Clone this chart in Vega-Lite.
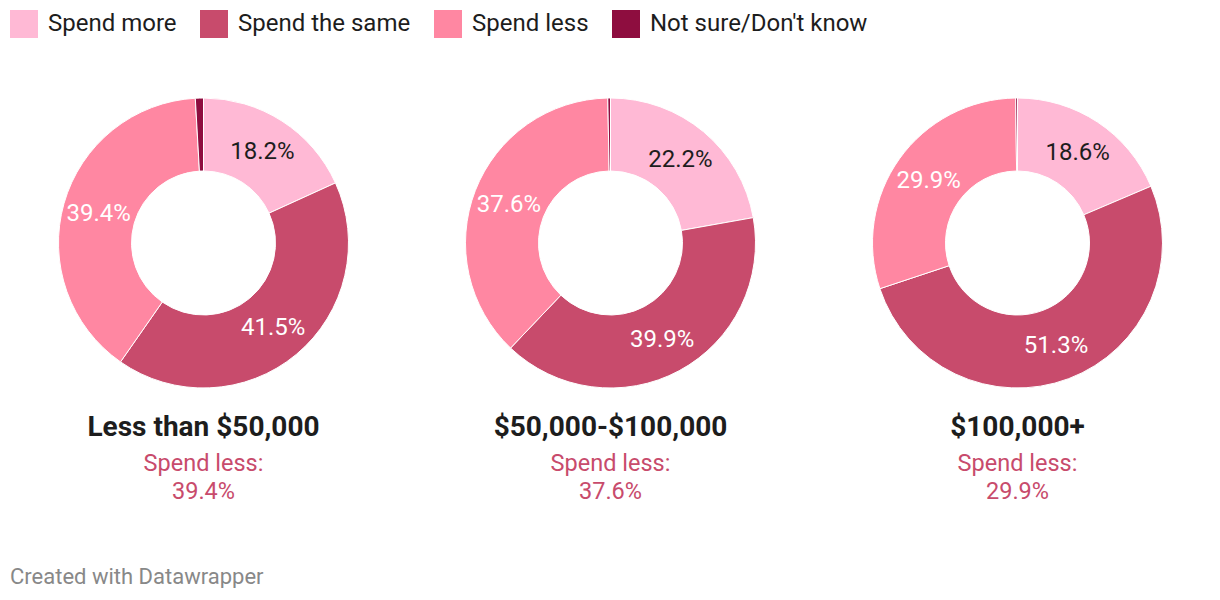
{
  "$schema": "https://vega.github.io/schema/vega-lite/v6.json",
  "padding": {"left": 10, "top": 10, "right": 0, "bottom": 0},
  "background": "#ffffff",
  "datasets": {
    "d": [
      {"g": "A", "cat": "Spend more", "k": 1, "value": 18.2, "label": "18.2%"},
      {"g": "A", "cat": "Spend the same", "k": 2, "value": 41.5, "label": "41.5%"},
      {"g": "A", "cat": "Spend less", "k": 3, "value": 39.4, "label": "39.4%"},
      {"g": "A", "cat": "Not sure/Don't know", "k": 4, "value": 0.9, "label": ""},
      {"g": "B", "cat": "Spend more", "k": 1, "value": 22.2, "label": "22.2%"},
      {"g": "B", "cat": "Spend the same", "k": 2, "value": 39.9, "label": "39.9%"},
      {"g": "B", "cat": "Spend less", "k": 3, "value": 37.6, "label": "37.6%"},
      {"g": "B", "cat": "Not sure/Don't know", "k": 4, "value": 0.3, "label": ""},
      {"g": "C", "cat": "Spend more", "k": 1, "value": 18.6, "label": "18.6%"},
      {"g": "C", "cat": "Spend the same", "k": 2, "value": 51.3, "label": "51.3%"},
      {"g": "C", "cat": "Spend less", "k": 3, "value": 29.9, "label": "29.9%"},
      {"g": "C", "cat": "Not sure/Don't know", "k": 4, "value": 0.2, "label": ""}
    ]
  },
  "title": {
    "text": "Created with Datawrapper",
    "orient": "bottom",
    "anchor": "start",
    "font": "Roboto",
    "fontSize": 22,
    "fontWeight": "normal",
    "color": "#888888",
    "offset": 63
  },
  "spacing": 20,
  "hconcat": [
    {
      "width": 387, "height": 290,
      "data": {"name": "d"},
      "transform": [{"filter": "datum.g === 'A'"}],
      "title": {"text": "Less than $50,000", "subtitle": ["Spend less:", "39.4%"]},
      "layer": [
        {"mark": {"type": "arc", "outerRadius": 145, "innerRadius": 72, "stroke": "#ffffff", "strokeWidth": 1},
         "encoding": {
           "theta": {"field": "value", "type": "quantitative", "stack": true},
           "order": {"field": "k", "type": "quantitative"},
           "color": {"field": "cat", "type": "nominal", "title": null,
             "scale": {"domain": ["Spend more", "Spend the same", "Spend less", "Not sure/Don't know"],
                       "range": ["#ffb9d5", "#c84b6c", "#ff87a2", "#8e0d3f"]}}
         }},
        {"mark": {"type": "text", "radius": 109, "font": "Roboto", "fontSize": 24, "dy": 1},
         "encoding": {
           "theta": {"field": "value", "type": "quantitative", "stack": true},
           "order": {"field": "k", "type": "quantitative"},
           "detail": {"field": "cat", "type": "nominal"},
           "text": {"field": "label", "type": "nominal"},
           "fill": {"condition": {"test": "datum.cat === 'Spend more'", "value": "#1d1d1d"}, "value": "#ffffff"}
         }}
      ]
    },
    {
      "width": 387, "height": 290,
      "data": {"name": "d"},
      "transform": [{"filter": "datum.g === 'B'"}],
      "title": {"text": "$50,000-$100,000", "subtitle": ["Spend less:", "37.6%"]},
      "layer": [
        {"mark": {"type": "arc", "outerRadius": 145, "innerRadius": 72, "stroke": "#ffffff", "strokeWidth": 1},
         "encoding": {
           "theta": {"field": "value", "type": "quantitative", "stack": true},
           "order": {"field": "k", "type": "quantitative"},
           "color": {"field": "cat", "type": "nominal", "title": null,
             "scale": {"domain": ["Spend more", "Spend the same", "Spend less", "Not sure/Don't know"],
                       "range": ["#ffb9d5", "#c84b6c", "#ff87a2", "#8e0d3f"]}}
         }},
        {"mark": {"type": "text", "radius": 109, "font": "Roboto", "fontSize": 24, "dy": 1},
         "encoding": {
           "theta": {"field": "value", "type": "quantitative", "stack": true},
           "order": {"field": "k", "type": "quantitative"},
           "detail": {"field": "cat", "type": "nominal"},
           "text": {"field": "label", "type": "nominal"},
           "fill": {"condition": {"test": "datum.cat === 'Spend more'", "value": "#1d1d1d"}, "value": "#ffffff"}
         }}
      ]
    },
    {
      "width": 387, "height": 290,
      "data": {"name": "d"},
      "transform": [{"filter": "datum.g === 'C'"}],
      "title": {"text": "$100,000+", "subtitle": ["Spend less:", "29.9%"]},
      "layer": [
        {"mark": {"type": "arc", "outerRadius": 145, "innerRadius": 72, "stroke": "#ffffff", "strokeWidth": 1},
         "encoding": {
           "theta": {"field": "value", "type": "quantitative", "stack": true},
           "order": {"field": "k", "type": "quantitative"},
           "color": {"field": "cat", "type": "nominal", "title": null,
             "scale": {"domain": ["Spend more", "Spend the same", "Spend less", "Not sure/Don't know"],
                       "range": ["#ffb9d5", "#c84b6c", "#ff87a2", "#8e0d3f"]}}
         }},
        {"mark": {"type": "text", "radius": 109, "font": "Roboto", "fontSize": 24, "dy": 1},
         "encoding": {
           "theta": {"field": "value", "type": "quantitative", "stack": true},
           "order": {"field": "k", "type": "quantitative"},
           "detail": {"field": "cat", "type": "nominal"},
           "text": {"field": "label", "type": "nominal"},
           "fill": {"condition": {"test": "datum.cat === 'Spend more'", "value": "#1d1d1d"}, "value": "#ffffff"}
         }}
      ]
    }
  ],
  "config": {
    "view": {"stroke": null},
    "title": {
      "orient": "bottom",
      "anchor": "middle",
      "font": "Roboto",
      "fontSize": 28,
      "fontWeight": "bold",
      "color": "#1d1d1d",
      "offset": 24,
      "subtitleFont": "Roboto",
      "subtitleFontSize": 23.5,
      "subtitleColor": "#c84b6c",
      "subtitlePadding": 10,
      "subtitleLineHeight": 28
    },
    "legend": {
      "orient": "top",
      "direction": "horizontal",
      "symbolType": "square",
      "symbolSize": 784,
      "symbolStrokeWidth": 0,
      "labelFont": "Roboto",
      "labelFontSize": 24,
      "labelColor": "#1d1d1d",
      "labelOffset": 10,
      "columnPadding": 23,
      "offset": 58,
      "labelLimit": 400
    }
  }
}
